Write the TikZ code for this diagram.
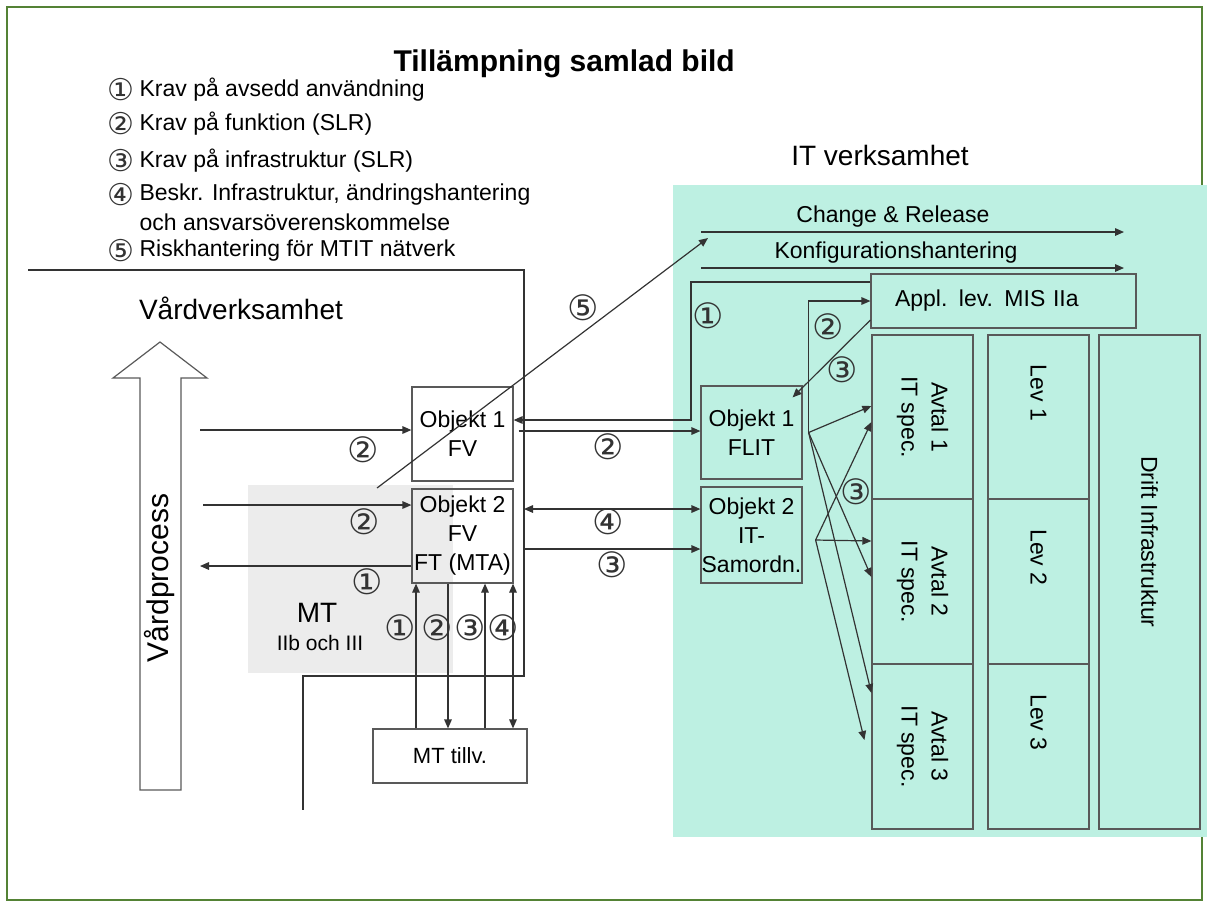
\documentclass[tikz,border=0pt]{standalone}
\usepackage{fontspec}
\setmainfont{Liberation Sans}
\newfontfamily\circfont{DejaVu Sans}
\usetikzlibrary{arrows.meta,calc,positioning}
\definecolor{brdgreen}{RGB}{84,130,53}
\definecolor{itmint}{RGB}{189,240,226}
\definecolor{mtgray}{RGB}{236,236,236}

\begin{document}
\begin{tikzpicture}[x=.5pt,y=-.5pt,line width=.6pt,>={Triangle[length=4.5pt,width=3.8pt]},
    box/.style={draw=black!65,inner sep=0pt,align=center,font=\fontsize{11.5}{14.5}\selectfont},
    txt/.style={inner sep=0pt,font=\fontsize{11.5}{15}\selectfont},
    big/.style={inner sep=0pt,font=\fontsize{14}{16}\selectfont},
    num/.style={inner sep=0pt,text=black!80,font=\circfont\fontsize{17.5}{18}\selectfont},
    legnum/.style={inner sep=0pt,text=black!80,font=\circfont\fontsize{15}{16}\selectfont},
    conn/.style={draw=black!80},
    tipup/.style={->},tipdn/.style={<-},tipboth/.style={<->}]
    \useasboundingbox (0,0) rectangle (1209,907);
    \draw[brdgreen,line width=1pt] (7,7) rectangle (1202,900);
    \fill[itmint] (673,185) rectangle (1207,837);
    \fill[mtgray] (248,485) rectangle (453,673);

    % title and legend
    \node[anchor=west,inner sep=0pt,font=\bfseries\fontsize{15}{18}\selectfont] (title) at (393,64) {Tillämpning samlad bild};
    \foreach \n/\t/\yy in {①/Krav på avsedd användning/90, ②/Krav på funktion (SLR)/124, ③/Krav på infrastruktur (SLR)/161, ④/{Beskr. Infrastruktur, ändringshantering}/195, ⑤/Riskhantering för MTIT nätverk/251}{
      \node[legnum] (legnum\yy) at (121,\yy) {\n};
      \node[txt,anchor=west] (legtxt\yy) at (139,\yy) {\t};}
    \node[txt,anchor=west] (legtxt222) at (139,222) {och ansvarsöverenskommelse};

    % the two areas
    \node[big] (vardv) at (241,308) {Vårdverksamhet};
    \node[big] (itv) at (880,155) {IT verksamhet};
    \coordinate (vb) at (524,270);
    \draw[conn] (28,270) -- (vb) -- (524,676) -- (303,676) -- (303,810);
    \draw[black!65] (140,790) -- (140,378) -- (113,378) -- (160,342) -- (207,378) -- (181,378) -- (181,790) -- cycle;
    \node[big,rotate=90,font=\fontsize{15}{16}\selectfont] (vproc) at (160,578) {Vårdprocess};
    \node[big] (mt) at (317,613) {MT};
    \node[inner sep=0pt,font=\fontsize{10.5}{12}\selectfont] (mtsub) at (320,643) {IIb och III};

    % boxes
    \node[box,minimum width=50.5pt,minimum height=47pt] (fv1) at (462.5,434) {Objekt 1\\FV};
    \node[box,minimum width=50.5pt,minimum height=47pt] (fv2) at (462.5,536) {Objekt 2\\FV\\FT (MTA)};
    \node[box,minimum width=77pt,minimum height=27pt,font=\fontsize{11}{13}\selectfont] (tillv) at (450,756) {MT tillv.};
    \node[box,minimum width=50.5pt,minimum height=46.5pt] (flit) at (751.5,432.5) {Objekt 1\\FLIT};
    \node[box,minimum width=50.5pt,minimum height=48pt] (samo) at (751.5,535) {Objekt 2\\IT-\\Samordn.};
    \node[box,minimum height=27pt,text width=108.5pt,inner xsep=12pt,align=left] (appl) at (1003.5,301) {Appl. lev. MIS IIa};
    \foreach \i/\yy/\h in {1/417/82pt,2/581.5/82.5pt,3/746.5/82.5pt}{
      \node[box,minimum width=50.5pt,minimum height=\h] (avtal\i) at (922.5,\yy) {};
      \node[txt,rotate=-90,align=center] (avtaltxt\i) at (avtal\i) {Avtal \i\\IT spec.};
      \node[box,minimum width=50.5pt,minimum height=\h] (lev\i) at (1038.5,\yy) {};
      \node[txt,rotate=-90] (levtxt\i) at ([yshift=12pt]lev\i.center) {Lev \i};}
    \node[box,minimum width=50.5pt,minimum height=247pt] (drift) at (1149.5,582) {};
    \node[txt,rotate=-90] (drifttxt) at ([yshift=20pt]drift.center) {Drift Infrastruktur};

    % Change & Release, Konfigurationshantering
    \coordinate (crs) at (701,232);
    \coordinate (cre) at (1124,232);
    \coordinate (kfs) at (701,268);
    \coordinate (kfe) at (1124,268);
    \draw[conn,->] (crs) -- (cre);
    \draw[conn,->] (kfs) -- (kfe);
    \node[txt] (crlab) at (893,217) {Change \& Release};
    \node[txt] (kflab) at (896,253) {Konfigurationshantering};

    % Vardverksamhet connectors
    \coordinate (in1) at (200,430);
    \coordinate (in2) at (203,505);
    \coordinate (out1) at (200,566);
    \draw[conn,->] (in1) -- (in1 -| fv1.west);
    \draw[conn,->] (in2) -- (in2 -| fv2.west);
    \draw[conn,->] (out1 -| fv2.west) -- (out1);
    \node[num] (n2a) at (363,450) {②};
    \node[num] (n2b) at (364,522) {②};
    \node[num] (n1a) at (367,582) {①};
    \coordinate (risk) at (377,488);
    \draw[conn,->] (risk) -- ([xshift=3.5pt,yshift=-3pt]crs);
    \node[num] (n5) at (583,308) {⑤};

    % between the areas
    \coordinate (k1) at (691,282);
    \draw[conn,->] ([yshift=9.5pt]appl.west) -- (k1) |- ([yshift=7pt]fv1.east);
    \node[num] (n1b) at (708,316) {①};
    \coordinate (a2) at ([xshift=2.5pt,yshift=1.5pt]fv1.east);
    \draw[conn,->] (a2) -- (a2 -| flit.west);
    \node[num] (n2c) at (608,447) {②};
    \coordinate (s4) at ([yshift=13pt]samo.west);
    \coordinate (s3) at ([yshift=-7pt]samo.west);
    \draw[conn,<->] (vb |- s4) -- (s4);
    \draw[conn,->] (vb |- s3) -- (s3);
    \node[num] (n4a) at (608,522) {④};
    \node[num] (n3a) at (612,565) {③};

    % IT side
    \coordinate (f1) at ([xshift=3pt]flit.east);
    \coordinate (f2) at ([xshift=6.5pt,yshift=-2.5pt]samo.east);
    \draw[conn,->] (f1) |- (appl.west);
    \draw[conn,->] ([yshift=-9.5pt]appl.west) -- ([xshift=-5pt,yshift=-6pt]flit.north east);
    \node[num] (n2d) at (828,327) {②};
    \node[num] (n3b) at (842,370) {③};
    \draw[conn,->] (f1) -- ([yshift=5.5pt]avtal1.west);
    \draw[conn,->] (f1) -- ([yshift=2.25pt]avtal2.west);
    \draw[conn,->] (f1) -- ([yshift=26.75pt]avtal3.west);
    \draw[conn,->] (f2) -- ([yshift=-2.5pt]avtal1.west);
    \draw[conn,->] (f2) -- ([yshift=20.25pt]avtal2.west);
    \draw[conn,->] (f2) -- ([xshift=-3.5pt,yshift=3.25pt]avtal3.west);
    \node[num] (n3c) at (856,492) {③};

    % MT tillv.
    \foreach \xx/\tp in {416/tipup,448/tipdn,485/tipup,513/tipboth}{
      \draw[conn,\tp] (\xx,0 |- tillv.north) -- (\xx,0 |- fv2.south);}
    \foreach \xx/\n in {400/①,437/②,470/③,503/④}{
      \node[num] (vn\xx) at (\xx,628) {\n};}
  \end{tikzpicture}
\end{document}
